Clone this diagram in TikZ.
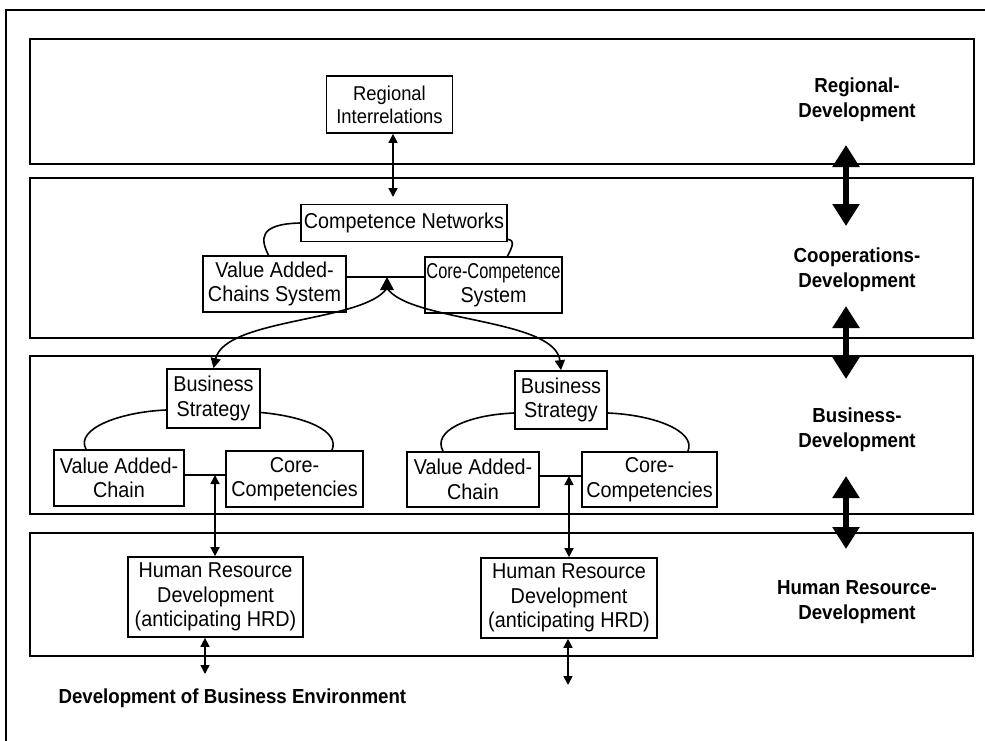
\documentclass[tikz,border=0pt]{standalone}
\usepackage{fontspec}
\setmainfont[FakeStretch=0.92]{Liberation Sans}
\usetikzlibrary{arrows.meta}

\tikzset{
  band/.style={draw, line width=1.8pt},
  box/.style={draw, line width=1.7pt, inner sep=0pt, align=center, fill=white,
    font=\fontsize{21.5}{24.5}\selectfont},
  levellabel/.style={align=center, font=\fontsize{20.3}{25}\selectfont\bfseries},
  link/.style={line width=1.6pt},
  biarrow/.style={line width=1.6pt, {Triangle[length=9pt,width=9pt]}-{Triangle[length=9pt,width=9pt]}},
  toarrow/.style={line width=1.6pt, -{Triangle[length=10pt,width=10pt]}},
  levelarrow/.style={line width=6.5pt, {Triangle[length=22pt,width=26pt]}-{Triangle[length=22pt,width=26pt]}}
}

\begin{document}
\begin{tikzpicture}[x=1pt, y=-1pt]
\useasboundingbox (0,0) rectangle (985,741);

% outer frame (left and top edges)
\draw[line width=1.8pt] (6,741) -- (6,10) -- (985,10);

% the four development levels
\draw[band] (30,39) rectangle (974,164);
\draw[band] (30,178) rectangle (973,338);
\draw[band] (30,356) rectangle (973,514);
\draw[band] (30,533) rectangle (973,656);

% level names
\node[levellabel] (lreg) at (857,100) {Regional-\\Development};
\node[levellabel] (lcoop) at (857,270) {Cooperations-\\Development};
\node[levellabel] (lbus) at (857,430) {Business-\\Development};
\node[levellabel] (lhrd) at (857,602) {Human Resource-\\Development};

% arrows between levels
\coordinate (a1t) at (846,145); \coordinate (a1b) at (846,226);
\coordinate (a2t) at (846,306); \coordinate (a2b) at (846,379);
\coordinate (a3t) at (846,476); \coordinate (a3b) at (846,549);
\draw[levelarrow] (a1t) -- (a1b);
\draw[levelarrow] (a2t) -- (a2b);
\draw[levelarrow] (a3t) -- (a3b);

% regional level
\node[box, minimum width=126pt, minimum height=57pt,
      font=\fontsize{20}{23}\selectfont] (reg) at (389.5,104.5) {Regional\\Interrelations};

% cooperation level
\node[box, minimum width=206pt, minimum height=37pt] (cn) at (404,223) {Competence Networks};
\node[box, minimum width=143pt, minimum height=56pt] (vacs) at (274.5,284) {Value Added-\\Chains System};
\node[box, minimum width=137pt, minimum height=56pt] (ccs) at (493.5,285) {\scalebox{0.83}[1]{Core-Competence}\\System};

\coordinate (rtip) at (393,197);
\draw[biarrow] (reg.south -| rtip) -- (rtip);

\draw[link] (cn.west) .. controls +(-42,1) and +(-8,-16) .. ([xshift=-6pt]vacs.north);
\draw[link] ([yshift=3pt]cn.south east) .. controls +(8,1) and +(4,-8) .. ([xshift=14pt]ccs.north);
\coordinate (cjoin) at (387,277);
\draw[link] (vacs.east |- cjoin) -- (ccs.west |- cjoin);

% business level
\node[box, minimum width=93pt, minimum height=59pt] (bs1) at (213.5,398.5) {Business\\Strategy};
\node[box, minimum width=130pt, minimum height=56pt] (vac1) at (119,478) {Value Added-\\Chain};
\node[box, minimum width=137pt, minimum height=56pt] (cc1) at (294.5,479) {Core-\\Competencies};

\node[box, minimum width=92pt, minimum height=58pt] (bs2) at (561,400) {Business\\Strategy};
\node[box, minimum width=132pt, minimum height=55pt] (vac2) at (473,479.5) {Value Added-\\Chain};
\node[box, minimum width=135pt, minimum height=55pt] (cc2) at (649.5,479.5) {Core-\\Competencies};

% links from the networks down to each business strategy
\fill (cjoin) -- ++(-7,13) -- ++(14,0) -- cycle;
\coordinate (cbase) at (387,288);
\draw[toarrow] (cbase) .. controls (365,322) and (225,318) .. (bs1.north);
\draw[toarrow] (cbase) .. controls (409,322) and (555,318) .. (bs2.north);

\draw[link] ([yshift=-11.5pt]bs1.west) .. controls +(-47,2) and +(-11,-20) .. ([xshift=-33pt]vac1.north);
\draw[link] ([yshift=-14pt]bs1.east) .. controls +(45,4) and +(8,-19) .. ([xshift=37.5pt]cc1.north);
\coordinate (j1) at (215,475);
\draw[link] (vac1.east |- j1) -- (cc1.west |- j1);

\draw[link] ([yshift=-13pt]bs2.west) .. controls +(-47,2) and +(-11,-20) .. ([xshift=-30pt]vac2.north);
\draw[link] ([yshift=-13pt]bs2.east) .. controls +(47,2) and +(8,-20) .. ([xshift=38.5pt]cc2.north);
\coordinate (j2) at (569,476);
\draw[link] (vac2.east |- j2) -- (cc2.west |- j2);

% human resource level
\node[box, minimum width=175pt, minimum height=80pt] (hrd1) at (215.5,597) {Human Resource\\Development\\(anticipating HRD)};
\node[box, minimum width=176pt, minimum height=80pt] (hrd2) at (569,598) {Human Resource\\Development\\(anticipating HRD)};

\draw[biarrow] (j1) -- (j1 |- hrd1.north);
\draw[biarrow] (j2) -- (j2 |- hrd2.north);

% links to the business environment
\coordinate (e1) at (205,674);
\coordinate (e2) at (568,685);
\draw[biarrow] (e1 |- hrd1.south) -- (e1);
\draw[biarrow] (e2 |- hrd2.south) -- (e2);

\node[levellabel, anchor=west] (env) at (55,698) {Development of Business Environment};
\end{tikzpicture}
\end{document}
